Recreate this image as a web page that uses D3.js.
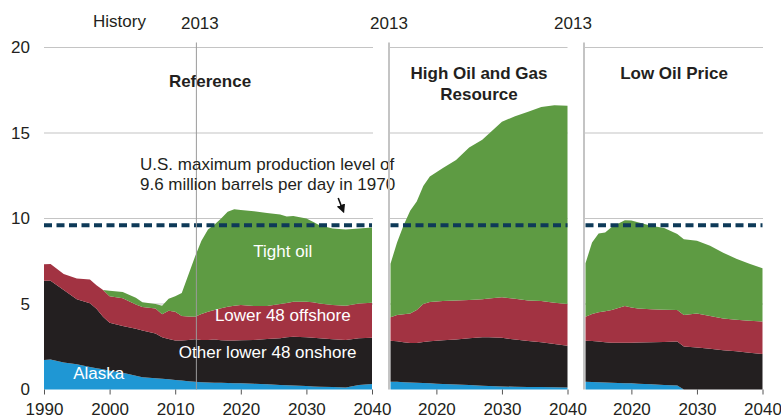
<!DOCTYPE html>
<html>
<head>
<meta charset="utf-8">
<script src="https://cdn.jsdelivr.net/npm/d3@7"></script>
<style>
  body { margin: 0; background: #fff; }
  svg { font-family: "Liberation Sans", Arial, sans-serif; }
</style>
</head>
<body>
<svg id="chart" width="781" height="419"></svg>
<script>
// Series names (stack order, bottom to top)
const seriesNames = ["Alaska", "Other lower 48 onshore", "Lower 48 offshore", "Tight oil"];
const seriesColors = ["#1f97d4", "#231f20", "#a23342", "#5e9b43"];

// Reference case (history + projection), million barrels per day
const refYears    = [1990,1991,1993,1995,1997,1998,1999,2000,2002,2004,2005,2007,2008,2009,2010,2011,2012,2013,2014,2015,2016,2017,2018,2019,2020,2022,2024,2026,2027,2028,2030,2031,2032,2034,2036,2038,2040];
const refAlaska   = [1.73,1.76,1.58,1.48,1.32,1.25,1.18,1.10,0.98,0.80,0.72,0.66,0.63,0.60,0.55,0.52,0.48,0.45,0.43,0.41,0.40,0.39,0.38,0.37,0.36,0.33,0.30,0.26,0.25,0.23,0.20,0.18,0.16,0.14,0.12,0.26,0.32];
const refOnshore  = [4.63,4.60,4.24,3.80,3.72,3.47,3.07,2.81,2.74,2.75,2.73,2.61,2.42,2.35,2.31,2.35,2.42,2.49,2.47,2.49,2.52,2.49,2.48,2.50,2.52,2.57,2.65,2.74,2.80,2.86,2.86,2.85,2.84,2.80,2.78,2.74,2.71];
const refOffshore = [0.96,0.98,0.93,1.21,1.39,1.38,1.57,1.55,1.61,1.42,1.37,1.47,1.35,1.65,1.69,1.43,1.37,1.32,1.52,1.65,1.73,1.87,1.98,2.03,2.06,1.98,1.93,2.00,2.01,2.04,2.07,2.07,2.03,2.00,2.00,2.03,2.04];
const refTight    = [0,0,0,0,0,0,0,0.32,0.37,0.39,0.28,0.26,0.50,0.70,0.90,1.35,2.43,3.49,4.28,4.80,5.00,5.25,5.56,5.64,5.56,5.54,5.44,5.24,5.06,5.01,4.87,4.71,4.57,4.48,4.46,4.39,4.40];

// High Oil and Gas Resource case
const highYears    = [2013,2014,2015,2016,2017,2018,2019,2020,2021,2023,2025,2027,2028,2030,2032,2034,2036,2038,2040];
const highAlaska   = [0.46,0.45,0.43,0.41,0.40,0.38,0.36,0.34,0.32,0.29,0.26,0.22,0.21,0.18,0.16,0.15,0.14,0.13,0.12];
const highOnshore  = [2.39,2.37,2.33,2.31,2.32,2.40,2.46,2.51,2.56,2.64,2.74,2.83,2.84,2.84,2.76,2.69,2.62,2.53,2.44];
const highOffshore = [1.37,1.53,1.64,1.73,1.93,2.22,2.30,2.30,2.29,2.27,2.23,2.23,2.27,2.37,2.38,2.36,2.41,2.42,2.44];
const highTight    = [3.13,4.25,5.20,6.00,6.35,6.90,7.33,7.55,7.78,8.22,8.92,9.32,9.63,10.27,10.68,11.05,11.35,11.54,11.60];

// Low Oil Price case
const lowYears    = [2013,2014,2015,2016,2017,2019,2020,2021,2023,2025,2027,2028,2030,2032,2034,2036,2038,2040];
const lowAlaska   = [0.46,0.44,0.42,0.41,0.40,0.37,0.36,0.34,0.30,0.27,0.24,0,0,0,0,0,0,0];
const lowOnshore  = [2.39,2.40,2.38,2.36,2.34,2.37,2.38,2.41,2.46,2.51,2.56,2.51,2.46,2.38,2.30,2.23,2.15,2.08];
const lowOffshore = [1.41,1.58,1.72,1.81,1.91,2.14,2.06,1.99,1.93,1.89,1.85,1.84,1.99,1.92,1.85,1.85,1.87,1.89];
const lowTight    = [3.12,4.18,4.60,4.60,4.85,5.02,5.08,5.04,4.89,4.78,4.45,4.43,4.25,4.10,3.85,3.57,3.33,3.12];

const yTicks = [0, 5, 10, 15, 20];
const maxLevel = 9.6; // 1970 peak

const svg = d3.select("#chart");
const y = d3.scaleLinear().domain([0, 20]).range([389.5, 47.5]);

const panels = [
  { title: ["Reference"], titleY: 87, years: refYears, series: [refAlaska, refOnshore, refOffshore, refTight],
    domain: [1990, 2040], range: [44, 372], ticks: [1990, 2000, 2010, 2020, 2030, 2040], grid: [44, 373] },
  { title: ["High Oil and Gas", "Resource"], titleY: 79, years: highYears, series: [highAlaska, highOnshore, highOffshore, highTight],
    domain: [2013, 2040], range: [390.5, 567.5], ticks: [2020, 2030, 2040], grid: [389, 567.5] },
  { title: ["Low Oil Price"], titleY: 79, years: lowYears, series: [lowAlaska, lowOnshore, lowOffshore, lowTight],
    domain: [2013, 2040], range: [585.5, 762.5], ticks: [2020, 2030, 2040], grid: [584, 763] }
];

panels.forEach((p, pi) => {
  const x = d3.scaleLinear().domain(p.domain).range(p.range);
  const g = svg.append("g");

  // gridlines
  g.selectAll("line.grid")
    .data(yTicks.filter(t => t > 0))
    .enter().append("line")
      .attr("x1", p.grid[0]).attr("x2", p.grid[1])
      .attr("y1", d => y(d)).attr("y2", d => y(d))
      .attr("stroke", "#c4c4c4").attr("stroke-width", 1.2);

  // left divider for projection-only panels
  if (pi > 0) {
    g.append("line")
      .attr("x1", p.grid[0]).attr("x2", p.grid[0])
      .attr("y1", y(20) - 5).attr("y2", y(0))
      .attr("stroke", "#c4c4c4").attr("stroke-width", 2);
  }

  // stacked areas
  const rows = p.years.map((yr, i) => {
    const r = { year: yr };
    seriesNames.forEach((s, k) => r[s] = p.series[k][i]);
    return r;
  });
  const stacked = d3.stack().keys(seriesNames)(rows);
  const area = d3.area()
    .x(d => x(d.data.year))
    .y0(d => y(d[0]))
    .y1(d => y(d[1]));
  g.selectAll("path.layer")
    .data(stacked)
    .enter().append("path")
      .attr("d", area)
      .attr("fill", (d, i) => seriesColors[i]);

  // 1970 maximum level
  g.append("line")
    .attr("x1", p.range[0]).attr("x2", p.range[1])
    .attr("y1", y(maxLevel)).attr("y2", y(maxLevel))
    .attr("stroke", "#0e3a58").attr("stroke-width", 4)
    .attr("stroke-dasharray", "8,4.5");

  // x axis
  const axis = g.append("g")
    .attr("transform", `translate(0,${y(0)})`)
    .call(d3.axisBottom(x).tickValues(p.ticks).tickFormat(d3.format("d")).tickSize(5).tickSizeOuter(0));
  axis.select(".domain").remove();
  axis.selectAll(".tick line").attr("stroke", "#555");
  axis.selectAll(".tick text")
    .attr("font-size", 17).attr("fill", "#231f20").attr("dy", "1.05em")
    .attr("font-family", "Liberation Sans, Arial, sans-serif");

  // panel title
  p.title.forEach((t, i) => {
    g.append("text")
      .attr("x", (p.range[0] + p.range[1]) / 2 + (pi === 0 ? 2 : 0))
      .attr("y", p.titleY + i * 20.5)
      .attr("text-anchor", "middle")
      .attr("font-size", 17).attr("font-weight", "bold").attr("fill", "#231f20")
      .text(t);
  });

  // 2013 marker label
  svg.append("text")
    .attr("x", pi === 0 ? x(2013) + 5 : (pi === 1 ? p.grid[0] : p.grid[0] - 11))
    .attr("y", 29)
    .attr("text-anchor", "middle")
    .attr("font-size", 17).attr("fill", "#231f20")
    .text("2013");

  if (pi === 0) {
    // history/projection divider
    g.append("line")
      .attr("x1", x(2013) + 1.5).attr("x2", x(2013) + 1.5)
      .attr("y1", y(20) - 5).attr("y2", y(0))
      .attr("stroke", "#9a9a9a").attr("stroke-width", 1);

    svg.append("text")
      .attr("x", 93).attr("y", 27)
      .attr("font-size", 17).attr("fill", "#231f20")
      .text("History");

    // series labels
    const labels = [
      { text: "Tight oil", yr: 2026.4, v: 7.72 },
      { text: "Lower 48 offshore", yr: 2026.4, v: 4.0 },
      { text: "Other lower 48 onshore", yr: 2024.1, v: 1.86 },
      { text: "Alaska", yr: 1998.35, v: 0.62 }
    ];
    g.selectAll("text.slabel")
      .data(labels)
      .enter().append("text")
        .attr("x", d => x(d.yr))
        .attr("y", d => y(d.v))
        .attr("text-anchor", "middle")
        .attr("font-size", 17).attr("fill", "#fff")
        .text(d => d.text);

    // annotation
    const note = ["U.S. maximum production level of", "9.6 million barrels per day in 1970"];
    g.selectAll("text.note")
      .data(note)
      .enter().append("text")
        .attr("x", 140)
        .attr("y", (d, i) => 170 + i * 20)
        .attr("font-size", 17).attr("fill", "#231f20")
        .text(d => d);

    // arrow down to the dashed line
    svg.append("defs").append("marker")
      .attr("id", "arrow").attr("viewBox", "0 0 10 10")
      .attr("refX", 7).attr("refY", 5)
      .attr("markerWidth", 5.5).attr("markerHeight", 5.5)
      .attr("orient", "auto")
      .append("path").attr("d", "M0,0 L10,5 L0,10 z").attr("fill", "#111");
    g.append("line")
      .attr("x1", x(2034.85)).attr("y1", y(11.2))
      .attr("x2", x(2035.6)).attr("y2", y(10.45))
      .attr("stroke", "#111").attr("stroke-width", 1.6)
      .attr("marker-end", "url(#arrow)");
  }
});

// y tick labels
svg.selectAll("text.ytick")
  .data(yTicks)
  .enter().append("text")
    .attr("x", 30)
    .attr("y", d => y(d))
    .attr("dy", "0.35em")
    .attr("text-anchor", "end")
    .attr("font-size", 17).attr("fill", "#231f20")
    .text(d => d);
</script>
</body>
</html>
